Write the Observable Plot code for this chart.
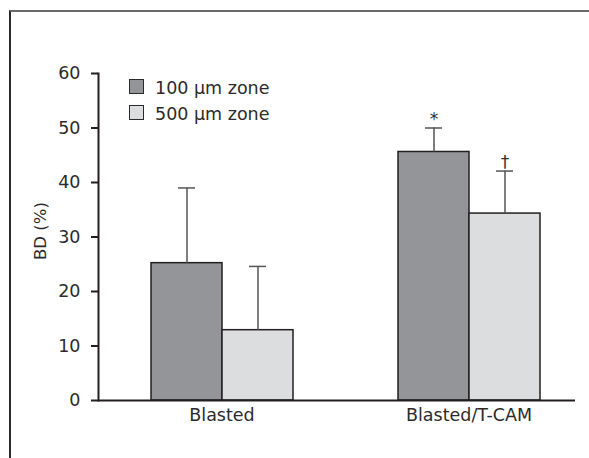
<!DOCTYPE html>
<html><head><meta charset="utf-8">
<script src="https://cdn.jsdelivr.net/npm/d3@7"></script>
<script src="https://cdn.jsdelivr.net/npm/@observablehq/plot@0.6"></script>
<style>
body{margin:0;background:#fff;}
#wrap{position:relative;width:589px;height:458px;overflow:hidden;font-family:"DejaVu Sans",sans-serif;color:#333;}
#frame{position:absolute;left:9px;top:10px;width:620px;height:480px;border-top:2px solid #6b6b6b;border-left:2px solid #2b2b2b;box-sizing:border-box;}
#chart{position:absolute;left:0;top:0;}
.sw{position:absolute;left:129px;width:15px;height:15px;box-sizing:border-box;border:1.5px solid #2b2b2b;}
.lt{position:absolute;left:155px;font-size:17.5px;line-height:18px;white-space:nowrap;color:#2b2b2b;}
</style>
</head><body>
<div id="wrap"><div id="frame"></div><div id="chart"></div><div id="legend"></div></div>
<script>
const categories = ["Blasted", "Blasted/T-CAM"];
const zones = ["100 µm zone", "500 µm zone"];
const means100 = [25.2, 45.6];
const means500 = [12.9, 34.3];
const upper100 = [39.0, 50.0];
const upper500 = [24.6, 42.1];
const sig100 = ["", "*"];
const sig500 = ["", "†"];
const yTicks = [0, 10, 20, 30, 40, 50, 60];
const yLabel = "BD (%)";
const colors = ["#939598", "#dcdddf"];

const rows = categories.flatMap((c, i) => [
  {cat: c, zone: zones[0], value: means100[i], upper: upper100[i], sig: sig100[i]},
  {cat: c, zone: zones[1], value: means500[i], upper: upper500[i], sig: sig500[i]}
]);

const chart = Plot.plot({
  width: 575, height: 440,
  marginLeft: 98, marginRight: 0, marginTop: 73, marginBottom: 40,
  style: {fontFamily: "DejaVu Sans", fontSize: "17.5px", color: "#2b2b2b", background: "transparent", overflow: "hidden"},
  fx: {domain: categories, range: [98, 592], padding: 0, label: null},
  x: {domain: zones, paddingInner: 0, paddingOuter: 0.739, align: 0.5, axis: null},
  y: {domain: [0, 60]},
  color: {domain: zones, range: colors},
  marks: [
    Plot.barY(rows, {fx: "cat", x: "zone", y: "value", fill: "zone", stroke: "#231f20", strokeWidth: 1.5}),
    Plot.ruleX(rows, {fx: "cat", x: "zone", y1: "value", y2: "upper", stroke: "#555", strokeWidth: 1.5}),
    Plot.tickY(rows, {fx: "cat", x: "zone", y: "upper", stroke: "#555", strokeWidth: 1.5, insetLeft: 27, insetRight: 27}),
    Plot.text(rows, {fx: "cat", x: "zone", y: "upper", text: "sig", lineAnchor: "bottom", dy: -3, fontSize: 17, fill: "#333"}),
    Plot.ruleY([0], {stroke: "#231f20", strokeWidth: 2}),
    Plot.frame({anchor: "left", facetAnchor: "left", stroke: "#231f20", strokeWidth: 2}),
    Plot.axisY(yTicks, {tickSize: 7, tickPadding: 11, label: null, stroke: "#231f20", strokeWidth: 2, fontSize: 17.5}),
    Plot.axisFx({anchor: "bottom", tickSize: 0, tickPadding: 8, label: null, fontSize: 17.5}),
    Plot.text([{cat: categories[0], t: yLabel}], {fx: "cat", text: "t", frameAnchor: "left", rotate: -90, dx: -58, dy: 23, fontSize: 16.5, fill: "#2b2b2b"})
  ]
});
document.getElementById("chart").appendChild(chart);

const legend = document.getElementById("legend");
zones.forEach((z, i) => {
  const top = 79 + i * 26;
  const sw = document.createElement("div");
  sw.className = "sw"; sw.style.top = top + "px"; sw.style.background = colors[i];
  const t = document.createElement("div");
  t.className = "lt"; t.style.top = top + "px"; t.textContent = z;
  legend.appendChild(sw); legend.appendChild(t);
});
</script>
</body></html>
